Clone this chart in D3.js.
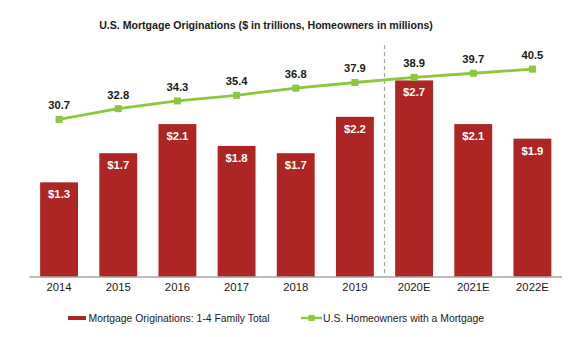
<!DOCTYPE html>
<html>
<head>
<meta charset="utf-8">
<script src="https://cdn.jsdelivr.net/npm/d3@7"></script>
<style>
  html, body { margin: 0; padding: 0; background: #fff; }
  svg { display: block; font-family: "Liberation Sans", Arial, sans-serif; }
</style>
</head>
<body>
<svg id="chart" width="580" height="337"></svg>
<script>
// Years (E = estimate)
const years = ["2014", "2015", "2016", "2017", "2018", "2019", "2020E", "2021E", "2022E"];
// Mortgage originations, 1-4 family total ($ trillions)
const originations = [1.3, 1.7, 2.1, 1.8, 1.7, 2.2, 2.7, 2.1, 1.9];
// U.S. homeowners with a mortgage (millions)
const homeowners = [30.7, 32.8, 34.3, 35.4, 36.8, 37.9, 38.9, 39.7, 40.5];
// Estimates start at this category
const forecastStart = "2020E";

const title = "U.S. Mortgage Originations ($ in trillions, Homeowners in millions)";
const legendLabels = ["Mortgage Originations: 1-4 Family Total", "U.S. Homeowners with a Mortgage"];

const RED = "#ae2623";
const GREEN = "#8dc63f";
const TEXT = "#1a1a1a";

const svg = d3.select("#chart");
const plot = { left: 29.5, right: 562, top: 44, bottom: 277 };

const x = d3.scaleBand().domain(years).range([plot.left, plot.right]).paddingInner(0.36).paddingOuter(0.18);
const yBar = d3.scaleLinear().domain([0, 3.2]).range([plot.bottom, plot.top]);
const yLine = d3.scaleLinear().domain([0, 45.4]).range([plot.bottom, plot.top]);
const cx = d => x(d) + x.bandwidth() / 2;

// Title
svg.append("text")
  .attr("x", 266).attr("y", 28.5)
  .attr("text-anchor", "middle")
  .attr("font-size", 10.6).attr("font-weight", "bold").attr("fill", TEXT)
  .text(title);

// Bars
const bars = years.map((y, i) => ({ year: y, v: originations[i] }));
svg.append("g").selectAll("rect").data(bars).join("rect")
  .attr("x", d => x(d.year))
  .attr("y", d => yBar(d.v))
  .attr("width", x.bandwidth())
  .attr("height", d => yBar(0) - yBar(d.v))
  .attr("fill", RED);

svg.append("g").selectAll("text").data(bars).join("text")
  .attr("x", d => cx(d.year))
  .attr("y", d => yBar(d.v) + 16)
  .attr("text-anchor", "middle")
  .attr("font-size", 11.3).attr("font-weight", "bold").attr("fill", "#fff")
  .text(d => "$" + d3.format(".1f")(d.v));

// Divider between actuals and estimates
const divX = (x(forecastStart) + x(years[years.indexOf(forecastStart) - 1]) + x.bandwidth()) / 2;
svg.append("line")
  .attr("x1", divX).attr("x2", divX)
  .attr("y1", plot.top + 1).attr("y2", plot.bottom - 1)
  .attr("stroke", "#a6a6a6").attr("stroke-width", 1.2)
  .attr("stroke-dasharray", "4,3");

// Baseline axis with category labels
const xAxis = svg.append("g")
  .attr("transform", `translate(0,${plot.bottom})`)
  .call(d3.axisBottom(x).tickSize(0).tickPadding(6));
xAxis.select(".domain").attr("stroke", "#a6a6a6").attr("stroke-width", 1.5)
  .attr("d", `M${plot.left},0H${plot.right}`);
xAxis.selectAll("text")
  .attr("font-size", 11.3).attr("fill", TEXT)
  .attr("font-family", "Liberation Sans, Arial, sans-serif");

// Homeowners line
const pts = years.map((y, i) => ({ year: y, v: homeowners[i] }));
svg.append("path").datum(pts)
  .attr("fill", "none").attr("stroke", GREEN).attr("stroke-width", 2.8)
  .attr("d", d3.line().x(d => cx(d.year)).y(d => yLine(d.v)));

svg.append("g").selectAll("rect").data(pts).join("rect")
  .attr("x", d => cx(d.year) - 3.5)
  .attr("y", d => yLine(d.v) - 3.5)
  .attr("width", 7).attr("height", 7)
  .attr("fill", GREEN);

svg.append("g").selectAll("text").data(pts).join("text")
  .attr("x", d => cx(d.year))
  .attr("y", d => yLine(d.v) - 10)
  .attr("text-anchor", "middle")
  .attr("font-size", 11.2).attr("font-weight", "bold").attr("fill", TEXT)
  .text(d => d3.format(".1f")(d.v));

// Legend
const legend = svg.append("g").attr("transform", "translate(0,318)");
legend.append("line")
  .attr("x1", 68).attr("x2", 86).attr("y1", 0).attr("y2", 0)
  .attr("stroke", RED).attr("stroke-width", 4);
legend.append("text")
  .attr("x", 88.5).attr("y", 3.8)
  .attr("font-size", 10.4).attr("fill", TEXT)
  .text(legendLabels[0]);
legend.append("line")
  .attr("x1", 301).attr("x2", 322).attr("y1", 0).attr("y2", 0)
  .attr("stroke", GREEN).attr("stroke-width", 2.5);
legend.append("rect")
  .attr("x", 308.5).attr("y", -3).attr("width", 6).attr("height", 6)
  .attr("fill", GREEN);
legend.append("text")
  .attr("x", 323).attr("y", 3.8)
  .attr("font-size", 10.4).attr("fill", TEXT)
  .text(legendLabels[1]);
</script>
</body>
</html>
